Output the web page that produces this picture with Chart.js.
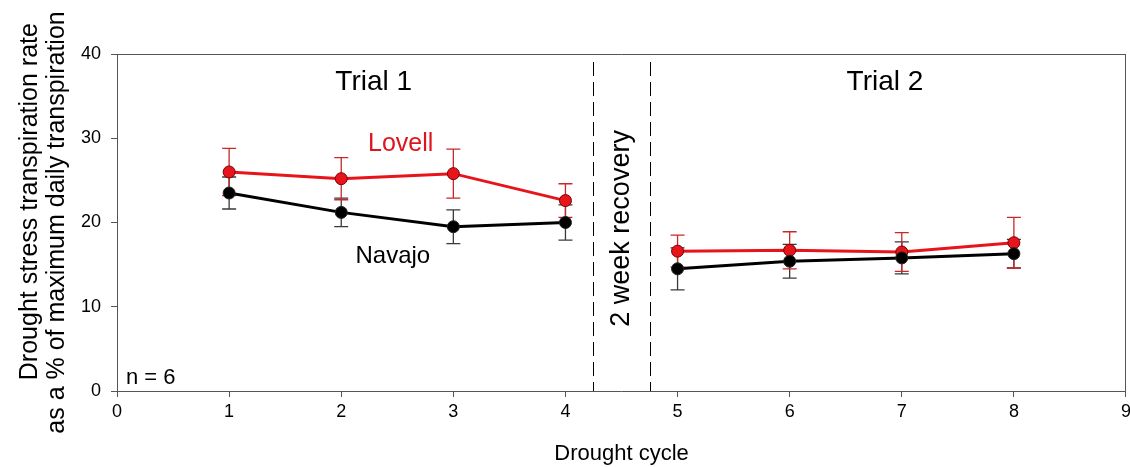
<!DOCTYPE html>
<html>
<head>
<meta charset="utf-8">
<script src="https://cdn.jsdelivr.net/npm/chart.js@4"></script>
<style>
  html, body { margin: 0; padding: 0; background: #fff; overflow: hidden; }
  #wrap { width: 1130px; height: 467px; overflow: hidden; }
</style>
</head>
<body>
<div id="wrap"><canvas id="chart" width="1135" height="467"></canvas></div>
<script>
// drought cycles and the two cultivars
const cycles = [1, 2, 3, 4, 5, 6, 7, 8];
const lovell = [26.0, 25.2, 25.8, 22.6, 16.6, 16.7, 16.5, 17.6];
const lovellErr = [2.8, 2.5, 2.9, 2.0, 1.9, 2.2, 2.3, 3.0];
const navajo = [23.5, 21.2, 19.5, 20.0, 14.5, 15.4, 15.8, 16.3];
const navajoErr = [1.9, 1.7, 2.0, 2.1, 2.5, 2.0, 1.9, 1.7];

const xTicks = [0, 1, 2, 3, 4, 5, 6, 7, 8, 9];
const yTicks = [0, 10, 20, 30, 40];
const recovery = [4.25, 4.75];

const FONT = "'Liberation Sans', Arial, sans-serif";

// labels written onto the plot, in data units
const notes = [
  { text: "Trial 1", x: 2.29, y: 36.6, size: 28, color: "#000" },
  { text: "Trial 2", x: 6.85, y: 36.6, size: 28, color: "#000" },
  { text: "Lovell", x: 2.53, y: 29.3, size: 25, color: "#e0141c" },
  { text: "Navajo", x: 2.46, y: 16.0, size: 24, color: "#000" },
];

// break the line over the recovery gap
const toPoints = (vals) => {
  const pts = [];
  cycles.forEach((c, i) => {
    if (i > 0 && cycles[i - 1] < recovery[0] && c > recovery[1]) {
      pts.push({ x: (recovery[0] + recovery[1]) / 2, y: null });
    }
    pts.push({ x: c, y: vals[i] });
  });
  return pts;
};

const errorBars = {
  id: "errorBars",
  beforeDatasetsDraw(chart) {
    const { ctx, scales: { x, y } } = chart;
    const sets = [
      { vals: navajo, err: navajoErr, color: "#3a3a3a" },
      { vals: lovell, err: lovellErr, color: "#c8282a" },
    ];
    ctx.save();
    ctx.lineWidth = 1.3;
    sets.forEach((s) => {
      ctx.strokeStyle = s.color;
      cycles.forEach((c, i) => {
        const px = x.getPixelForValue(c);
        const top = y.getPixelForValue(s.vals[i] + s.err[i]);
        const bot = y.getPixelForValue(s.vals[i] - s.err[i]);
        ctx.beginPath();
        ctx.moveTo(px, top); ctx.lineTo(px, bot);
        ctx.moveTo(px - 7, top); ctx.lineTo(px + 7, top);
        ctx.moveTo(px - 7, bot); ctx.lineTo(px + 7, bot);
        ctx.stroke();
      });
    });
    ctx.restore();
  },
  afterDatasetsDraw(chart) {
    const { ctx, chartArea: a, scales: { x, y } } = chart;
    ctx.save();
    // box around the plot
    ctx.strokeStyle = "#555";
    ctx.lineWidth = 1;
    ctx.beginPath();
    ctx.moveTo(a.left, a.top + 0.5); ctx.lineTo(a.right, a.top + 0.5);
    ctx.moveTo(a.right - 0.5, a.top); ctx.lineTo(a.right - 0.5, a.bottom);
    ctx.stroke();
    // recovery period
    ctx.strokeStyle = "#000";
    ctx.setLineDash([14, 6]);
    recovery.forEach((r) => {
      const px = Math.round(x.getPixelForValue(r)) + 0.5;
      ctx.beginPath();
      ctx.moveTo(px, a.top + 8); ctx.lineTo(px, a.bottom);
      ctx.stroke();
    });
    ctx.setLineDash([]);
    ctx.fillStyle = "#000";
    ctx.font = "27px " + FONT;
    ctx.textAlign = "center";
    ctx.textBaseline = "middle";
    ctx.translate(x.getPixelForValue((recovery[0] + recovery[1]) / 2), y.getPixelForValue(19.3));
    ctx.rotate(-Math.PI / 2);
    ctx.fillText("2 week recovery", 0, 0);
    ctx.restore();

    ctx.save();
    ctx.textAlign = "center";
    ctx.textBaseline = "middle";
    notes.forEach((n) => {
      ctx.font = n.size + "px " + FONT;
      ctx.fillStyle = n.color;
      ctx.fillText(n.text, x.getPixelForValue(n.x), y.getPixelForValue(n.y));
    });
    ctx.font = "22px " + FONT;
    ctx.fillStyle = "#000";
    ctx.textAlign = "left";
    ctx.fillText("n = 6", a.left + 9, y.getPixelForValue(1.5));
    ctx.restore();
  },
};

new Chart(document.getElementById("chart"), {
  type: "line",
  data: {
    datasets: [
      {
        label: "Navajo",
        data: toPoints(navajo),
        borderColor: "#000",
        backgroundColor: "#000",
        pointBorderColor: "#222",
        borderWidth: 3,
        pointRadius: 6,
        pointBorderWidth: 1,
        spanGaps: false,
      },
      {
        label: "Lovell",
        data: toPoints(lovell),
        borderColor: "#e8141c",
        backgroundColor: "#e8141c",
        pointBorderColor: "#7a0000",
        borderWidth: 3,
        pointRadius: 6,
        pointBorderWidth: 1,
        spanGaps: false,
      },
    ],
  },
  options: {
    responsive: false,
    animation: false,
    layout: { padding: { top: 54, right: 0, left: 16, bottom: 0 } },
    plugins: {
      legend: { display: false },
      tooltip: { enabled: false },
    },
    scales: {
      x: {
        type: "linear",
        min: 0,
        max: 9,
        afterBuildTicks: (axis) => { axis.ticks = xTicks.map((v) => ({ value: v })); },
        grid: { drawOnChartArea: false, tickLength: 6, color: "#555" },
        border: { color: "#555" },
        ticks: { color: "#000", font: { family: FONT, size: 18 }, padding: 4, maxRotation: 0 },
        title: {
          display: true,
          text: "Drought cycle",
          color: "#000",
          font: { family: FONT, size: 22 },
          padding: { top: 14, bottom: 0 },
        },
      },
      y: {
        min: 0,
        max: 40,
        afterBuildTicks: (axis) => { axis.ticks = yTicks.map((v) => ({ value: v })); },
        grid: { drawOnChartArea: false, tickLength: 6, color: "#555" },
        border: { color: "#555" },
        ticks: { color: "#000", font: { family: FONT, size: 18 }, padding: 10 },
        title: {
          display: true,
          text: ["      Drought stress transpiration rate", "as a % of maximum daily transpiration"],
          color: "#000",
          font: { family: FONT, size: 25, lineHeight: 1.1 },
          padding: { top: 0, bottom: 0 },
        },
      },
    },
  },
  plugins: [errorBars],
});
</script>
</body>
</html>
